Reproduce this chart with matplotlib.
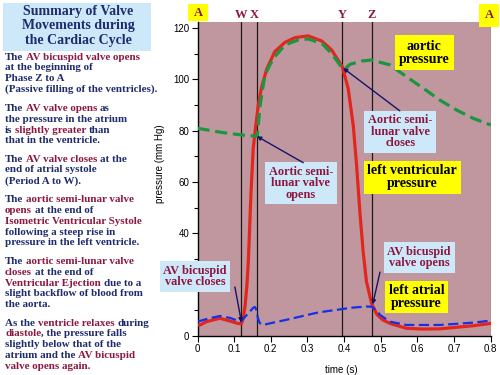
import re
import numpy as np
import matplotlib
matplotlib.use('Agg')
from matplotlib import pyplot as plt
from matplotlib.patches import Rectangle
from matplotlib.font_manager import FontProperties

# ---- data ----
lv_time = [0.0, 0.007, 0.025, 0.061, 0.089, 0.112, 0.12, 0.125, 0.13, 0.135, 0.139, 0.146, 0.152,
           0.159, 0.166, 0.175, 0.189, 0.211, 0.239, 0.266, 0.302, 0.339, 0.366, 0.395, 0.411,
           0.425, 0.434, 0.443, 0.452, 0.461, 0.475, 0.489, 0.505, 0.525, 0.57, 0.616, 0.661,
           0.707, 0.752, 0.8]
lv_pressure = [4.3, 4.3, 5.6, 6.9, 5.8, 4.8, 4.8, 7.0, 12, 20, 30, 56, 73,
               82, 90, 97, 104, 110.8, 114.4, 116.2, 116.9, 114.9, 111.4, 104.9, 96.5,
               82, 66.6, 48.4, 32.8, 21.2, 12.7, 8.5, 6.3, 4.9, 3.0, 2.7, 2.8,
               3.4, 4.0, 4.9]

ao_time = [0.0, 0.07, 0.12, 0.163, 0.167, 0.171, 0.178, 0.184, 0.197, 0.211, 0.239, 0.275,
           0.302, 0.339, 0.366, 0.395, 0.402, 0.416, 0.448, 0.475, 0.525, 0.57, 0.616,
           0.661, 0.707, 0.752, 0.8]
ao_pressure = [80.9, 79.2, 78.3, 77.8, 84, 90, 96.5, 101.5, 105.5, 108.8, 113.4, 115.3,
               115.7, 114, 110, 104.3, 104.0, 105.8, 107.1, 107.5, 105.6, 101, 96.5,
               91.9, 88, 84.8, 82.2]

la_time = [0.0, 0.03, 0.061, 0.09, 0.116, 0.12, 0.13, 0.143, 0.152, 0.157, 0.161, 0.165,
           0.17, 0.179, 0.2, 0.239, 0.33, 0.42, 0.46, 0.475, 0.49, 0.498, 0.525, 0.57,
           0.661, 0.752, 0.8]
la_pressure = [5.6, 6.8, 7.8, 7.0, 5.6, 6.0, 7.5, 9.5, 11, 11.3, 10, 6.9,
               5.0, 4.3, 5.0, 6.2, 9.2, 11, 11.5, 11.4, 9.8, 8.2, 5.6, 4.3,
               4.3, 5.2, 6.0]

phase_labels = ['A', 'W', 'X', 'Y', 'Z', 'A']
phase_times = [0.0, 0.12, 0.163, 0.395, 0.475, 0.8]

x_ticks = [0, 0.1, 0.2, 0.3, 0.4, 0.5, 0.6, 0.7, 0.8]
x_tick_labels = ['0', '0.1', '0.2', '0.3', '0.4', '0.5', '0.6', '0.7', '0.8']
y_ticks = [0, 20, 40, 60, 80, 100, 120]

title_lines = ['Summary of Valve', 'Movements during', 'the Cardiac Cycle']

# {...} marks the dark red parts
paragraphs = [
    ['The {AV bicuspid valve opens}',
     'at the beginning of',
     'Phase Z to A',
     '(Passive filling of the ventricles).'],
    ['The {AV valve opens} as',
     'the pressure in the atrium',
     'is {slightly greater} than',
     'that in the ventricle.'],
    ['The {AV valve closes} at the',
     'end of atrial systole',
     '(Period A to W).'],
    ['The {aortic semi-lunar valve}',
     '{opens} at the end of',
     '{Isometric Ventricular Systole}',
     'following a steep rise in',
     'pressure in the left ventricle.'],
    ['The {aortic semi-lunar valve}',
     '{closes} at the end of',
     '{Ventricular Ejection} due to a',
     'slight backflow of blood from',
     'the aorta.'],
    ['As the {ventricle relaxes} during',
     '{diastole}, the pressure falls',
     'slightly below that of the',
     'atrium and the {AV bicuspid}',
     '{valve opens again.}'],
]

# ---- colours ----
MAUVE = '#c1979f'
RED_LINE = '#e3261d'
GREEN = '#1b9640'
BLUE = '#1530e8'
NAVY = '#1e2b6e'
DARKRED = '#8d1740'
LIGHTBLUE = '#cde8f8'
YELLOW = '#ffff00'
ARROW = '#14146a'
SERIF = 'Liberation Serif'

fig = plt.figure(figsize=(5, 3.75), dpi=100)
ax = fig.add_axes([197.5 / 500, 1 - 336 / 375, 293.2 / 500, 314 / 375])
ax.set_facecolor(MAUVE)
ax.set_xlim(0, 0.8)
ax.set_ylim(0, 122.3)

ax.plot(lv_time, lv_pressure, color=RED_LINE, lw=2.3, zorder=3, solid_joinstyle='round')
ax.plot(ao_time, ao_pressure, color=GREEN, lw=2.3, dashes=(3.8, 1.8), zorder=4)
ax.plot(la_time, la_pressure, color=BLUE, lw=1.6, dashes=(4.6, 2.0), zorder=5)

for t in phase_times[1:]:
    ax.axvline(t, color='#555555' if t >= 0.8 else '#1a1a1a', lw=0.9, zorder=2)
for t, lab in zip(phase_times[1:-1], phase_labels[1:-1]):
    dx = -0.008 if lab == 'X' else 0
    ax.text(t + dx, 1.022, lab, transform=ax.get_xaxis_transform(), ha='center', va='center',
            color=DARKRED, fontsize=9, fontweight='bold', family=SERIF)

for s in ['top', 'right']:
    ax.spines[s].set_visible(False)
ax.spines['left'].set_linewidth(1.0)
ax.spines['bottom'].set_linewidth(1.0)

ax.set_xticks(x_ticks)
ax.set_xticklabels(x_tick_labels)
ax.set_yticks(y_ticks)
ax.set_yticks(np.arange(10, 121, 20), minor=True)
ax.tick_params(axis='both', which='major', length=4, width=0.8, labelsize=7, pad=2)
ax.tick_params(axis='y', which='minor', length=3, width=0.8)
for lab in ax.get_xticklabels() + ax.get_yticklabels():
    lab.set_family('Liberation Sans')
ax.set_ylabel('pressure (mm Hg)', fontsize=7, family='Liberation Sans')
ax.yaxis.set_label_coords(-0.111, 0.548)
ax.set_xlabel('time (s)', fontsize=7, family='Liberation Sans')
ax.xaxis.set_label_coords(0.492, -0.092)


def note(x, y, text, fc, color, size, pad=0.3, spacing=1.0):
    ax.text(x, y, text, ha='center', va='center', fontsize=size, fontweight='bold',
            family=SERIF, color=color, linespacing=spacing, zorder=6,
            bbox=dict(boxstyle='square,pad=%s' % pad, fc=fc, ec='none'))


def arrow(x0, y0, x1, y1):
    ax.annotate('', xy=(x1, y1), xytext=(x0, y0), zorder=7,
                arrowprops=dict(arrowstyle='-|>', color=ARROW, lw=1.0, mutation_scale=6,
                                shrinkA=0, shrinkB=0))


note(0.282, 59.5, 'Aortic semi-\nlunar valve\nopens', LIGHTBLUE, DARKRED, 8.8, 0.3, 0.95)
arrow(0.2885, 67.5, 0.162, 77.8)
note(0.5535, 79.5, 'Aortic semi-\nlunar valve\ncloses', LIGHTBLUE, DARKRED, 8.8, 0.3, 0.95)
arrow(0.552, 87.7, 0.397, 104.4)
note(0.586, 61.9, 'left ventricular\npressure', YELLOW, 'black', 10, 0.25)
note(0.619, 110.4, 'aortic\npressure', YELLOW, 'black', 10, 0.3)
note(0.605, 30.6, 'AV bicuspid\nvalve opens', LIGHTBLUE, DARKRED, 8.8, 0.3, 0.95)
arrow(0.498, 24.9, 0.478, 12.3)
note(0.598, 15.2, 'left atrial\npressure', YELLOW, 'black', 10, 0.25)
note(-0.007, 23.2, 'AV bicuspid\nvalve closes', LIGHTBLUE, DARKRED, 8.8, 0.3, 0.95)
arrow(0.102, 19.1, 0.12, 5.3)

# ---- overlay in pixel coordinates for the left panel ----
ov = fig.add_axes([0, 0, 1, 1], zorder=10)
ov.set_xlim(0, 500)
ov.set_ylim(375, 0)
ov.axis('off')

ov.add_patch(Rectangle((3, 3), 148, 48, fc=LIGHTBLUE, ec='none'))
for i, line in enumerate(title_lines):
    ov.text(78, 11.7 + i * 14.2, line, ha='center', va='center', fontsize=10,
            fontweight='bold', family=SERIF, color=NAVY)

# yellow A boxes
ov.add_patch(Rectangle((188, 4), 20, 17, fc=YELLOW, ec='none'))
ov.text(198, 12.5, 'A', ha='center', va='center', fontsize=9, fontweight='bold',
        family=SERIF, color=DARKRED)
ov.add_patch(Rectangle((479, 4), 20, 23, fc=YELLOW, ec='none'))
ov.text(489, 15, 'A', ha='center', va='center', fontsize=9, fontweight='bold',
        family=SERIF, color=DARKRED)

BODY_SIZE = 7.9
body_prop = FontProperties(family=SERIF, weight='bold', size=BODY_SIZE)
renderer = fig.canvas.get_renderer()


def ink_width(s):
    return renderer.get_text_width_height_descent(s, body_prop, ismath=False)[0]


def pen_pos(prefix):
    # where the next glyph would start after prefix (measured with the real renderer)
    if not prefix:
        return 0.0
    return ink_width(prefix + 'I') - ink_width('I')


def rich_line(x, y, s):
    parts = [p for p in re.split(r'(\{[^}]*\})', s) if p]
    prefix = ''
    for p in parts:
        red = p.startswith('{')
        txt = p.strip('{}')
        lead = len(txt) - len(txt.lstrip(' '))
        if txt.strip():
            start = pen_pos(prefix + txt[:lead])
            ov.text(x + start, y, txt.strip(), ha='left', va='center',
                    fontproperties=body_prop, color=DARKRED if red else NAVY)
        prefix += txt


para_tops = [57.3, 108.7, 159.3, 200.0, 261.7, 323.3]
for top, para in zip(para_tops, paragraphs):
    for i, line in enumerate(para):
        rich_line(5, top + i * 10.7, line)

fig.savefig('out.png', dpi=100)
